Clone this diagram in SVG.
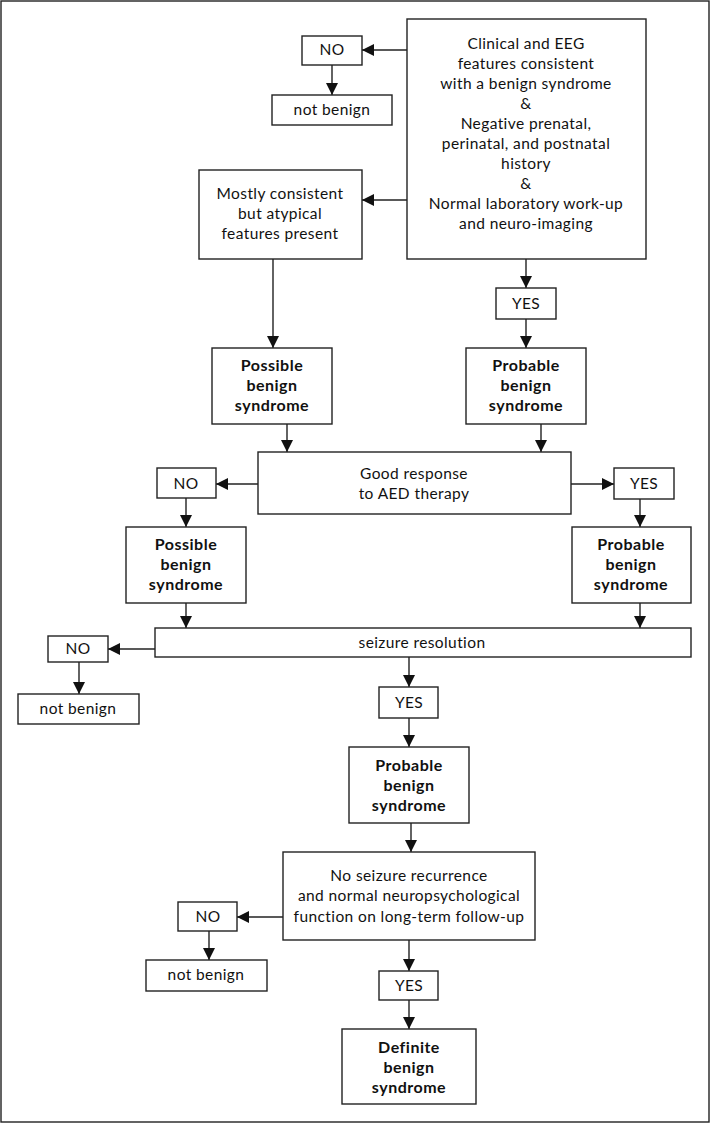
<svg xmlns="http://www.w3.org/2000/svg" width="710" height="1123" viewBox="0 0 710 1123">
<style>
.b{fill:#fff;stroke:#222;stroke-width:1.4}
.t{font-family:Lato,"Open Sans","Liberation Sans",sans-serif;font-size:15.5px;letter-spacing:0.4px;fill:#111;text-anchor:middle}
.tb{font-family:Lato,"Open Sans","Liberation Sans",sans-serif;font-size:16px;letter-spacing:0.5px;font-weight:bold;fill:#111;text-anchor:middle}
.c{fill:none;stroke:#222;stroke-width:1.4;marker-end:url(#ah)}
</style>
<defs>
<marker id="ah" markerUnits="userSpaceOnUse" markerWidth="12" markerHeight="12" viewBox="0 0 12 12" refX="12" refY="6" orient="auto">
<path d="M0,0 L12,6 L0,12 z" fill="#111"/>
</marker>
</defs>
<rect x="1" y="1" width="708" height="1121" fill="#fff" stroke="#222" stroke-width="1.4"/>
<g id="connectors">
<path class="c" d="M407,50 H362"/>
<path class="c" d="M332,65 V95"/>
<path class="c" d="M407,200 H362"/>
<path class="c" d="M526,259 V288"/>
<path class="c" d="M526,319 V348"/>
<path class="c" d="M273,259 V348"/>
<path class="c" d="M287,424 V452"/>
<path class="c" d="M541,424 V452"/>
<path class="c" d="M258,484 H216"/>
<path class="c" d="M571,484 H614"/>
<path class="c" d="M186,498 V527"/>
<path class="c" d="M640,499 V527"/>
<path class="c" d="M186,603 V628"/>
<path class="c" d="M640,603 V628"/>
<path class="c" d="M155,649 H108"/>
<path class="c" d="M79,662 V694"/>
<path class="c" d="M409,657 V687"/>
<path class="c" d="M409,718 V747"/>
<path class="c" d="M411,823 V852"/>
<path class="c" d="M283,917 H237"/>
<path class="c" d="M209,931 V960"/>
<path class="c" d="M409,940 V971"/>
<path class="c" d="M409,1000 V1029"/>
</g>
<g id="n-top"><rect class="b" x="407" y="19" width="239" height="240"/>
<text class="t" x="526" y="49">Clinical and EEG</text>
<text class="t" x="526" y="69">features consistent</text>
<text class="t" x="526" y="89">with a benign syndrome</text>
<text class="t" x="526" y="109">&amp;</text>
<text class="t" x="526" y="129">Negative prenatal,</text>
<text class="t" x="526" y="149">perinatal, and postnatal</text>
<text class="t" x="526" y="169">history</text>
<text class="t" x="526" y="189">&amp;</text>
<text class="t" x="526" y="209">Normal laboratory work-up</text>
<text class="t" x="526" y="229">and neuro-imaging</text></g>
<g id="n-no1"><rect class="b" x="302" y="36" width="60" height="29"/><text class="t" x="332" y="55">NO</text></g>
<g id="n-nb1"><rect class="b" x="272" y="95" width="120" height="30"/><text class="t" x="332" y="115">not benign</text></g>
<g id="n-mostly"><rect class="b" x="199" y="170" width="163" height="89"/>
<text class="t" x="280" y="199">Mostly consistent</text>
<text class="t" x="280" y="219">but atypical</text>
<text class="t" x="280" y="239">features present</text></g>
<g id="n-yes1"><rect class="b" x="496" y="288" width="60" height="31"/><text class="t" x="526" y="309">YES</text></g>
<g id="n-poss1"><rect class="b" x="212" y="348" width="120" height="76"/>
<text class="tb" x="272" y="371">Possible</text><text class="tb" x="272" y="391">benign</text><text class="tb" x="272" y="411">syndrome</text></g>
<g id="n-prob1"><rect class="b" x="466" y="348" width="120" height="76"/>
<text class="tb" x="526" y="371">Probable</text><text class="tb" x="526" y="391">benign</text><text class="tb" x="526" y="411">syndrome</text></g>
<g id="n-good"><rect class="b" x="258" y="452" width="313" height="62"/>
<text class="t" x="414" y="479">Good response</text><text class="t" x="414" y="499">to AED therapy</text></g>
<g id="n-no2"><rect class="b" x="157" y="468" width="59" height="30"/><text class="t" x="186" y="489">NO</text></g>
<g id="n-yes2"><rect class="b" x="614" y="468" width="60" height="31"/><text class="t" x="644" y="489">YES</text></g>
<g id="n-poss2"><rect class="b" x="126" y="527" width="120" height="76"/>
<text class="tb" x="186" y="550">Possible</text><text class="tb" x="186" y="570">benign</text><text class="tb" x="186" y="590">syndrome</text></g>
<g id="n-prob2"><rect class="b" x="572" y="527" width="119" height="76"/>
<text class="tb" x="631" y="550">Probable</text><text class="tb" x="631" y="570">benign</text><text class="tb" x="631" y="590">syndrome</text></g>
<g id="n-seiz"><rect class="b" x="155" y="628" width="536" height="29"/><text class="t" x="422" y="648">seizure resolution</text></g>
<g id="n-no3"><rect class="b" x="48" y="636" width="60" height="26"/><text class="t" x="78" y="654">NO</text></g>
<g id="n-nb2"><rect class="b" x="18" y="694" width="121" height="30"/><text class="t" x="78" y="714">not benign</text></g>
<g id="n-yes3"><rect class="b" x="379" y="687" width="59" height="31"/><text class="t" x="409" y="708">YES</text></g>
<g id="n-prob3"><rect class="b" x="349" y="747" width="120" height="76"/>
<text class="tb" x="409" y="771">Probable</text><text class="tb" x="409" y="791">benign</text><text class="tb" x="409" y="811">syndrome</text></g>
<g id="n-noseiz"><rect class="b" x="283" y="852" width="252" height="88"/>
<text class="t" x="409" y="881">No seizure recurrence</text>
<text class="t" x="409" y="901">and normal neuropsychological</text>
<text class="t" x="409" y="922">function on long-term follow-up</text></g>
<g id="n-no4"><rect class="b" x="178" y="902" width="59" height="29"/><text class="t" x="208" y="922">NO</text></g>
<g id="n-nb3"><rect class="b" x="146" y="960" width="121" height="31"/><text class="t" x="206" y="980">not benign</text></g>
<g id="n-yes4"><rect class="b" x="379" y="971" width="59" height="29"/><text class="t" x="409" y="991">YES</text></g>
<g id="n-def"><rect class="b" x="342" y="1029" width="134" height="75"/>
<text class="tb" x="409" y="1053">Definite</text><text class="tb" x="409" y="1073">benign</text><text class="tb" x="409" y="1093">syndrome</text></g>
</svg>
